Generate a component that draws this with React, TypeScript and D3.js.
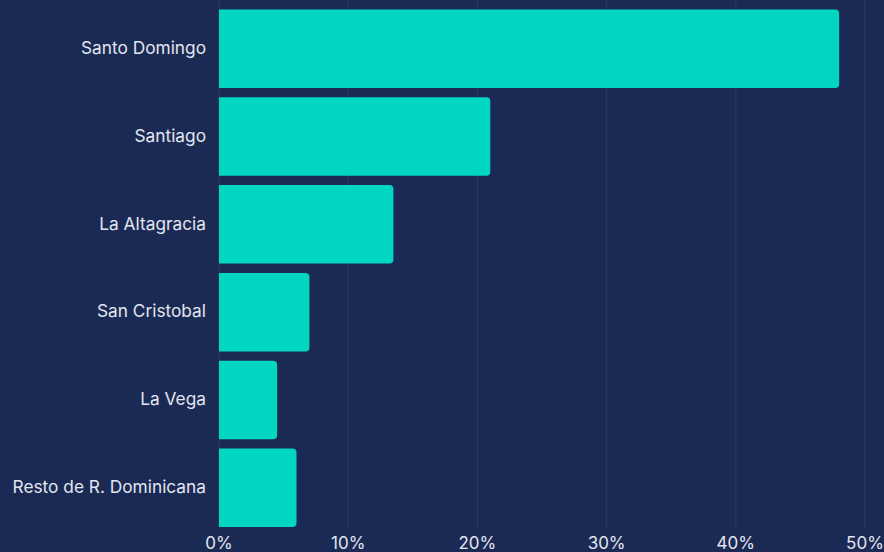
import React from "react";
import * as d3 from "d3";

const categories = ["Santo Domingo", "Santiago", "La Altagracia", "San Cristobal", "La Vega", "Resto de R. Dominicana"];
const values = [48.0, 21.0, 13.5, 7.0, 4.5, 6.0];
const ticks = [0, 10, 20, 30, 40, 50];

const W = 884, H = 552;

export default function App() {
  const x = d3.scaleLinear().domain([0, 50]).range([219, 865]);
  const y = d3.scaleBand<string>().domain(categories).range([4.85, 531.65]).paddingInner(0.106).paddingOuter(0.053);
  const r = 4;
  const barPath = (x0: number, x1: number, y0: number, h: number) => {
    const w = x1 - x0;
    const rr = Math.min(r, w / 2, h / 2);
    return `M${x0},${y0}H${x1 - rr}Q${x1},${y0} ${x1},${y0 + rr}V${y0 + h - rr}Q${x1},${y0 + h} ${x1 - rr},${y0 + h}H${x0}Z`;
  };
  return (
    <svg width={W} height={H} style={{ position: "fixed", left: 0, top: 0, background: "#1a2a55" }} fontFamily="Inter, 'Noto Sans', sans-serif">
      <rect width={W} height={H} fill="#1a2a55" />
      {ticks.map((t) => (
        <line key={t} x1={x(t)} x2={x(t)} y1={0} y2={528} stroke="#2c3b68" strokeWidth={1} />
      ))}
      {categories.map((c, i) => (
        <path key={c} d={barPath(x(0), x(values[i]), y(c)!, y.bandwidth())} fill="#00d6c0" />
      ))}
      {categories.map((c) => (
        <text key={c} x={206} y={y(c)! + y.bandwidth() / 2} dy="0.3em" textAnchor="end" fill="#e3e6ee" fontSize={17.3}>
          {c}
        </text>
      ))}
      {ticks.map((t) => (
        <text key={t} x={x(t)} y={549} textAnchor="middle" fill="#e3e6ee" fontSize={17}>
          {t}%
        </text>
      ))}
    </svg>
  );
}
